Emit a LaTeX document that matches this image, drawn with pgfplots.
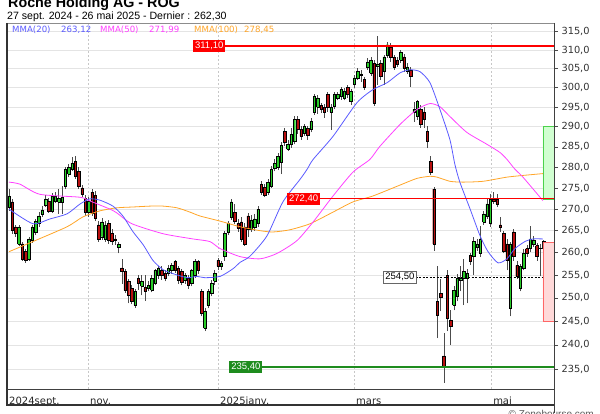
\documentclass[border=0pt]{standalone}
\usepackage{pgfplots}
\pgfplotsset{compat=1.18}
\usepackage{pgfplotstable}
\usepackage{fontspec}
\setmainfont{Liberation Sans}
\newfontfamily\dejavu{DejaVu Sans}

\definecolor{candleup}{RGB}{40,205,40}
\definecolor{candledown}{RGB}{185,15,15}
\definecolor{mmaA}{RGB}{90,90,255}
\definecolor{mmaB}{RGB}{255,64,255}
\definecolor{mmaC}{RGB}{255,165,40}
\definecolor{lvlred}{RGB}{255,0,0}
\definecolor{lvlgreen}{RGB}{30,140,30}
\definecolor{gridgray}{RGB}{228,228,228}

\pgfplotsset{
  wick/.style={draw=black!70, line width=0.7pt},
  body/.style={draw=black, line width=0.45pt},
}

% daily candles, i = trading day since 27 sept. 2024
\pgfplotstableread{
i o h l c
0 270.5 274.7 269.6 273.1
1 271.7 272.4 264.3 265.0
2 265.9 266.3 263.6 264.3
3 262.0 266.3 261.6 265.9
4 262.0 262.5 258.2 258.6
5 260.2 260.9 257.7 258.2
6 258.6 263.6 258.2 263.1
7 262.7 266.3 262.2 265.9
8 264.7 267.7 264.0 267.2
9 266.8 269.3 265.9 268.4
10 268.9 270.7 268.2 269.8
11 271.0 273.3 270.5 272.4
12 271.9 272.6 269.1 269.6
13 269.6 273.8 269.1 273.1
14 271.9 274.0 271.4 273.1
15 271.7 274.7 268.9 272.6
16 271.7 275.4 268.9 272.8
17 275.4 280.0 274.7 279.5
18 278.3 280.7 277.6 280.0
19 279.5 282.4 279.0 281.0
20 281.4 282.7 277.1 277.8
21 279.0 280.0 274.7 275.4
22 275.0 275.7 272.8 273.5
23 272.6 273.3 268.4 269.3
24 269.3 272.8 268.2 271.9
25 274.0 274.7 268.4 269.1
26 273.3 274.2 267.2 267.9
27 266.3 267.2 262.5 263.1
28 263.6 267.9 262.9 267.0
29 263.1 267.2 262.5 266.3
30 266.6 267.5 262.0 262.7
31 264.3 265.4 261.8 262.5
32 263.1 264.0 261.8 262.9
33 261.3 262.5 259.8 261.8
34 256.6 258.6 253.1 255.8
35 255.8 256.4 251.0 251.6
36 253.6 254.2 248.8 250.5
37 252.0 252.7 248.6 249.2
38 248.4 252.0 247.9 251.4
39 254.2 255.1 251.8 253.1
40 252.5 254.9 250.5 253.6
41 252.2 254.9 249.4 251.4
42 252.0 253.6 251.4 252.7
43 251.6 254.9 251.2 254.2
44 253.1 256.4 252.7 256.0
45 254.9 256.9 254.2 256.4
46 256.0 256.9 254.0 254.9
47 255.3 256.2 253.6 254.2
48 255.3 257.3 254.7 256.4
49 256.0 257.7 255.3 257.1
50 258.0 258.4 255.5 256.0
51 256.4 256.9 253.1 253.8
52 255.8 256.4 252.7 253.3
53 253.8 255.5 253.1 254.9
54 254.2 254.9 252.0 252.7
55 253.1 256.4 252.5 256.0
56 254.9 258.6 254.4 258.0
57 258.0 258.4 255.3 256.0
58 251.4 252.0 246.0 246.7
59 243.5 247.7 242.9 247.1
60 248.4 252.0 247.7 251.4
61 251.0 253.8 250.3 253.1
62 253.6 256.0 252.9 255.3
63 258.2 258.9 256.2 256.9
64 256.9 258.2 256.2 257.5
65 259.1 265.0 258.2 264.3
66 264.7 267.2 264.0 266.6
67 268.2 272.4 267.5 271.7
68 269.3 271.2 266.6 267.2
69 266.6 267.7 264.7 265.6
70 267.0 268.2 262.5 263.1
71 265.9 266.8 261.6 262.0
72 268.4 269.1 263.6 265.4
73 265.4 268.6 264.7 267.5
74 265.9 268.9 265.0 267.7
75 266.6 270.7 265.9 270.0
76 275.9 276.6 273.3 274.0
77 275.2 275.9 272.8 273.3
78 274.0 277.1 273.3 276.4
79 275.4 280.2 275.0 279.5
80 279.7 281.9 279.0 281.0
81 280.0 283.4 279.3 282.7
82 281.2 286.1 278.3 285.3
83 288.8 289.8 285.1 286.1
84 284.4 286.6 283.9 285.6
85 285.6 289.8 284.8 288.1
86 286.3 292.6 285.6 291.8
87 291.8 292.6 288.3 289.3
88 289.3 290.3 286.8 287.6
89 288.3 290.8 287.8 290.1
90 289.6 290.3 286.8 287.8
91 289.3 292.3 288.6 291.3
92 293.8 298.5 293.1 297.7
93 294.9 298.2 293.3 297.4
94 295.4 296.1 293.6 294.4
95 294.9 295.9 292.3 293.8
96 298.2 299.0 293.8 294.9
97 293.8 295.9 289.3 294.9
98 295.1 299.0 294.4 298.2
99 297.4 299.0 296.7 298.2
100 297.7 300.3 296.9 299.5
101 297.4 300.0 296.7 299.2
102 300.0 300.8 297.4 298.2
103 296.4 299.7 295.6 299.0
104 300.8 303.4 300.0 302.6
105 302.6 305.2 302.1 304.2
106 303.4 304.7 301.5 303.6
107 302.1 302.9 299.5 300.0
108 305.5 307.9 304.7 306.8
109 303.9 308.1 303.1 307.3
110 306.5 307.3 295.4 296.1
111 305.7 313.8 300.8 306.3
112 306.5 307.3 302.1 302.9
113 304.2 308.7 300.8 308.1
114 308.7 312.2 307.9 311.4
115 310.8 311.9 306.8 308.1
116 307.9 308.7 304.7 305.5
117 307.3 308.1 305.5 306.3
118 307.3 310.0 306.5 309.5
119 308.1 308.9 304.2 305.2
120 304.2 306.5 303.6 305.5
121 304.7 305.5 300.3 302.9
122 293.8 296.4 291.3 294.4
123 292.6 296.9 291.8 296.4
124 294.4 295.6 289.8 290.6
125 293.8 294.9 289.8 291.8
126 288.8 290.1 284.8 286.3
127 281.4 282.7 278.1 278.8
128 274.7 275.2 260.4 262.0
129 249.2 257.1 241.4 246.2
130 251.0 254.2 247.1 250.1
131 237.7 242.4 232.2 235.6
132 254.9 256.0 242.9 245.6
133 245.2 247.3 240.0 243.9
134 248.4 252.5 247.3 251.6
135 250.3 255.3 249.2 254.2
136 253.8 257.1 251.4 254.2
137 254.2 258.6 248.4 255.8
138 254.2 256.4 248.8 255.3
139 259.3 260.0 257.3 258.0
140 259.1 263.6 254.9 262.5
141 261.3 263.1 260.4 262.0
142 259.8 266.1 259.1 263.1
143 267.0 269.6 266.3 268.9
144 268.4 272.4 267.7 271.2
145 266.6 273.5 265.9 272.4
146 272.4 274.0 271.2 271.9
147 272.4 273.5 270.5 271.2
148 266.3 268.2 264.7 265.9
149 264.3 265.0 259.8 260.2
150 262.0 263.1 256.0 258.2
151 247.7 262.5 246.0 262.0
152 264.7 265.4 258.2 259.1
153 257.1 258.2 254.2 254.7
154 252.0 257.5 251.4 256.9
155 256.4 260.9 256.0 259.8
156 260.9 261.8 259.1 259.8
157 260.9 266.1 260.2 263.1
158 262.0 263.8 261.3 262.9
159 261.6 262.2 258.2 259.1
160 260.9 262.0 254.7 261.1
161 262.5 262.9 260.4 260.9
}\ohlc

% MMA(20)
\pgfplotstableread{
i v
0 270.0
7.2 266.6
12.3 267.7
17.5 268.9
21.4 271.2
24.4 272.4
27.4 272.1
31.3 270.7
34.3 268.4
37.3 264.8
40.4 261.8
43.4 258.2
46.4 256.2
49.4 255.3
53.6 254.4
56.6 254.7
59.0 254.4
63.6 254.7
67.5 256.4
69.6 257.8
72.6 259.2
77.7 263.8
82.5 271.7
87.7 277.1
89.8 279.5
91.6 281.9
97.6 287.6
104.8 296.1
109.6 299.5
113.9 301.3
117.8 303.9
120.8 304.7
123.8 304.2
126.8 301.3
129.8 294.4
132.8 286.8
134.3 280.7
135.8 276.4
138.9 270.0
141.9 263.8
144.3 260.2
147.3 257.7
150.0 258.6
152.4 260.9
155.4 262.5
157.8 263.1
160.8 263.1
}\mmaAtab

% MMA(50)
\pgfplotstableread{
i v
0 276.4
3.3 275.9
9.3 273.5
21.4 272.8
24.4 271.9
30.4 270.0
32.5 269.1
37.0 266.6
46.4 264.3
55.4 263.1
60.5 262.5
63.6 260.9
69.6 259.1
75.6 258.6
80.7 259.8
86.7 262.7
91.6 267.0
97.6 273.1
103.6 278.8
108.7 281.9
111.7 285.1
117.8 290.6
122.9 294.4
126.8 295.9
129.8 295.1
132.8 292.6
137.9 288.6
144.0 285.6
147.9 283.6
150.0 281.9
152.4 279.5
154.8 277.6
160.8 272.0
}\mmaBtab

% MMA(100)
\pgfplotstableread{
i v
0 260.2
7.2 262.5
17.5 265.9
22.3 268.2
27.4 269.6
32.5 270.3
37.3 270.5
42.5 270.7
46.4 270.7
50.6 270.3
54.5 269.3
57.5 268.4
63.6 267.2
69.6 265.9
75.6 265.0
79.5 264.7
84.6 265.2
90.7 266.6
97.6 269.3
103.6 271.7
109.6 273.1
117.8 275.7
122.9 277.3
126.8 277.8
128.9 277.6
132.8 276.6
136.7 276.4
142.8 276.6
150.0 277.6
156.0 278.1
160.8 278.45
}\mmaCtab

\begin{document}
\begin{tikzpicture}[x=1pt,y=1pt]
\useasboundingbox (0,0) rectangle (600,413);

\begin{axis}[
  at={(7pt,24pt)}, anchor=south west,
  width=547pt, height=366pt, scale only axis,
  xmin=-0.6, xmax=164.16,
  ymode=log, ymin=231.0, ymax=317.35,
  axis line style={draw=none},
  ytick={235,240,245,250,255,260,265,270,275,280,285,290,295,300,305,310,315},
  yticklabels={{235,0},{240,0},{245,0},{250,0},{255,0},{260,0},{265,0},{270,0},{275,0},{280,0},{285,0},{290,0},{295,0},{300,0},{305,0},{310,0},{315,0}},
  ytick pos=right, yticklabel pos=right,
  tick align=outside, major tick length=4pt,
  ytick style={draw=black!70, line width=0.6pt},
  yticklabel style={font=\dejavu\fontsize{9.8}{11}\selectfont, text=black!80},
  xtick={-0.6,23.8,62.95,103.9,145.2},
  xticklabels={2024sept.,nov.,2025janv.,mars,mai},
  xtick style={draw=none},
  xticklabel style={anchor=base west, inner sep=0pt, xshift=2pt, yshift=-12pt,
    font=\dejavu\fontsize{10}{12}\selectfont, text=black!85},
  ymajorgrids, xmajorgrids,
  y grid style={gridgray, line width=0.6pt},
  x grid style={black!22, dash pattern=on 2pt off 2pt, line width=0.5pt},
]

% candles
\pgfplotsforeachungrouped \rowi in {0,...,161}{%
  \pgfplotstablegetelem{\rowi}{i}\of\ohlc \let\ci\pgfplotsretval
  \pgfplotstablegetelem{\rowi}{o}\of\ohlc \let\co\pgfplotsretval
  \pgfplotstablegetelem{\rowi}{h}\of\ohlc \let\ch\pgfplotsretval
  \pgfplotstablegetelem{\rowi}{l}\of\ohlc \let\cl\pgfplotsretval
  \pgfplotstablegetelem{\rowi}{c}\of\ohlc \let\cc\pgfplotsretval
  \pgfmathtruncatemacro\isup{\cc>=\co}%
  \ifnum\isup=1 \def\ccol{candleup}\else\def\ccol{candledown}\fi
  \pgfmathsetmacro\xa{\ci-0.37}%
  \pgfmathsetmacro\xb{\ci+0.37}%
  \edef\candle{%
    \noexpand\addplot[wick] coordinates {(\ci,\cl) (\ci,\ch)};
    \noexpand\addplot[body, fill=\ccol] coordinates {(\xa,\co) (\xb,\co) (\xb,\cc) (\xa,\cc) (\xa,\co)};
  }\candle
}

% distance boxes on the right
\addplot[draw=green!75!black!70, fill=green!18, line width=0.6pt]
  coordinates {(160.8,272.4) (164.16,272.4) (164.16,290.0) (160.8,290.0) (160.8,272.4)};
\addplot[draw=red!60, fill=red!15, line width=0.6pt]
  coordinates {(160.8,245.0) (164.16,245.0) (164.16,262.3) (160.8,262.3) (160.8,245.0)};

% moving averages
\addplot[mmaC, line width=0.8pt, smooth, tension=0.4] table[x=i, y=v] {\mmaCtab};
\addplot[mmaB, line width=0.8pt, smooth, tension=0.4] table[x=i, y=v] {\mmaBtab};
\addplot[mmaA, line width=0.8pt, smooth, tension=0.4] table[x=i, y=v] {\mmaAtab};

% levels
\addplot[lvlred, line width=1.8pt] coordinates {(56,311.1) (164.16,311.1)};
\addplot[lvlred, line width=0.8pt] coordinates {(84,272.4) (164.16,272.4)};
\addplot[lvlgreen, line width=1.8pt] coordinates {(66.5,235.4) (164.16,235.4)};
\addplot[black, line width=0.6pt, dash pattern=on 2pt off 1.5pt] coordinates {(113,254.5) (160.8,254.5)};

\node[fill=lvlred, text=white, anchor=west, inner xsep=2pt, inner ysep=2pt,
  font=\fontsize{9.5}{10}\selectfont] at (axis cs:55.4,311.1) {311,10};
\node[fill=lvlred, text=white, anchor=west, inner xsep=2pt, inner ysep=2pt,
  font=\fontsize{9.5}{10}\selectfont] at (axis cs:83.7,272.4) {272,40};
\node[fill=lvlgreen, text=white, anchor=west, inner xsep=2pt, inner ysep=2pt,
  font=\fontsize{9.5}{10}\selectfont] at (axis cs:66.3,235.4) {235,40};
\node[fill=white, draw=black!60, text=black, anchor=west, inner xsep=2pt, inner ysep=2pt,
  line width=0.5pt, font=\fontsize{9.5}{10}\selectfont] at (axis cs:112.7,254.5) {254,50};
\end{axis}

% frame
\draw[black!45, line width=0.6pt] (7,390) -- (554,390);
\draw[black!80, line width=1.2pt] (7,390) -- (7,8) -- (554,8);
\draw[black!75, line width=0.8pt] (7,24) -- (554,24);
\draw[black!75, line width=1pt] (554,390) -- (554,0);

% legend of the averages
\begin{scope}[every node/.style={anchor=base west, inner sep=0pt, font=\dejavu\fontsize{8.6}{10}\selectfont}]
\node[text=mmaA] at (12,380) {MMA(20)};
\node[text=mmaA] at (61,380) {263,12};
\node[text=mmaB] at (100,380) {MMA(50)};
\node[text=mmaB] at (149,380) {271,99};
\node[text=mmaC] at (194,380) {MMA(100)};
\node[text=mmaC] at (244,380) {278,45};
\end{scope}

% titles
\node[anchor=base west, inner sep=0pt, font=\bfseries\fontsize{14.3}{16}\selectfont] at (8,405.5) {Roche Holding AG - ROG};
\node[anchor=base west, inner sep=0pt, font=\fontsize{10.6}{12}\selectfont] at (7,393.5) {27 sept. 2024 - 26 mai 2025 - Dernier : 262,30};
\node[anchor=base east, inner sep=0pt, text=black!65, font=\fontsize{10}{12}\selectfont] at (594,-4) {\textcopyright\ Zonebourse.com};
\end{tikzpicture}
\end{document}
